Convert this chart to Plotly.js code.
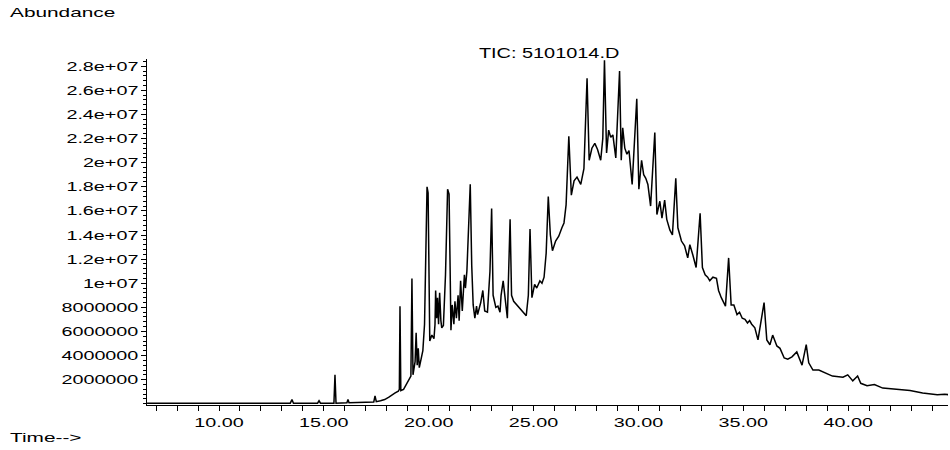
<!DOCTYPE html>
<html>
<head>
<meta charset="utf-8">
<script src="https://cdn.plot.ly/plotly-3.0.1.min.js"></script>
<style>
html,body{margin:0;padding:0;background:#fff;}
#chart{width:950px;height:450px;}
</style>
</head>
<body>
<div id="chart"></div>
<script>
// Retention time (minutes)
var timeMin = [
 6.57, 8.0, 10.0, 12.0, 13.40, 13.48, 13.55, 14.70, 14.77, 14.84,
 15.48, 15.53, 15.58, 16.10, 16.15, 16.20, 16.80, 17.00, 17.38, 17.44,
 17.50, 17.70, 17.90, 18.10, 18.25, 18.40, 18.55, 18.60, 18.63, 18.67,
 18.80, 18.90, 19.05, 19.15, 19.20, 19.25, 19.35, 19.40, 19.45, 19.50,
 19.55, 19.65, 19.72, 19.80, 19.87, 19.92, 19.97, 20.02, 20.05, 20.15,
 20.25, 20.30, 20.33, 20.38, 20.42, 20.47, 20.52, 20.58, 20.62, 20.70,
 20.80, 20.90, 20.97, 21.02, 21.06, 21.12, 21.20, 21.25, 21.32, 21.40,
 21.45, 21.52, 21.60, 21.70, 21.75, 21.82, 21.98, 22.05, 22.12, 22.20,
 22.28, 22.33, 22.40, 22.48, 22.58, 22.67, 22.80, 22.92, 23.00, 23.07,
 23.20, 23.30, 23.40, 23.45, 23.55, 23.65, 23.75, 23.88, 23.95, 24.05,
 24.20, 24.30, 24.40, 24.52, 24.65, 24.75, 24.83, 24.92, 25.05, 25.15,
 25.30, 25.40, 25.50, 25.60, 25.70, 25.80, 25.90, 26.05, 26.20, 26.35,
 26.45, 26.55, 26.68, 26.80, 26.93, 27.07, 27.25, 27.40, 27.55, 27.65,
 27.78, 27.92, 28.05, 28.20, 28.30, 28.38, 28.48, 28.58, 28.68, 28.78,
 28.92, 29.10, 29.18, 29.25, 29.35, 29.45, 29.55, 29.70, 29.92, 30.02,
 30.15, 30.25, 30.35, 30.45, 30.58, 30.78, 30.88, 31.02, 31.12, 31.25,
 31.35, 31.50, 31.62, 31.78, 31.88, 32.05, 32.20, 32.35, 32.45, 32.60,
 32.75, 32.94, 33.05, 33.18, 33.30, 33.40, 33.55, 33.72, 33.82, 33.95,
 34.15, 34.30, 34.42, 34.55, 34.70, 34.82, 34.95, 35.08, 35.20, 35.30,
 35.40, 35.55, 35.70, 35.99, 36.12, 36.27, 36.40, 36.60, 36.75, 36.95,
 37.12, 37.32, 37.55, 37.80, 38.00, 38.12, 38.32, 38.60, 38.85, 39.25,
 39.75, 39.98, 40.22, 40.45, 40.60, 40.90, 41.25, 41.65, 42.30, 42.95,
 43.55, 44.25, 44.60, 44.80
];

// Total ion current abundance
var abundance = [
 0.05e6, 0.05e6, 0.05e6, 0.05e6, 0.05e6, 0.35e6, 0.05e6, 0.05e6, 0.25e6, 0.05e6,
 0.05e6, 2.4e6, 0.05e6, 0.08e6, 0.35e6, 0.08e6, 0.1e6, 0.12e6, 0.15e6, 0.65e6,
 0.18e6, 0.25e6, 0.35e6, 0.55e6, 0.75e6, 0.9e6, 1.05e6, 1.2e6, 8.1e6, 1.1e6,
 1.2e6, 1.5e6, 2.0e6, 2.3e6, 10.4e6, 2.4e6, 3.5e6, 5.9e6, 3.2e6, 4.6e6,
 3.0e6, 3.8e6, 4.4e6, 6.6e6, 12.0e6, 18.0e6, 17.5e6, 7.1e6, 5.2e6, 5.7e6,
 5.4e6, 6.6e6, 9.4e6, 7.1e6, 8.8e6, 6.6e6, 9.2e6, 6.9e6, 6.3e6, 6.5e6,
 10.7e6, 17.8e6, 17.4e6, 11.3e6, 6.1e6, 8.2e6, 6.6e6, 8.5e6, 7.1e6, 9.0e6,
 6.9e6, 10.2e6, 7.7e6, 10.7e6, 9.6e6, 11.0e6, 18.2e6, 11.5e6, 8.2e6, 7.1e6,
 8.1e6, 7.4e6, 7.9e6, 8.4e6, 9.4e6, 7.7e6, 7.6e6, 11.0e6, 16.2e6, 9.0e6,
 8.0e6, 8.1e6, 7.6e6, 9.0e6, 10.2e6, 8.5e6, 7.1e6, 15.3e6, 9.0e6, 8.5e6,
 8.2e6, 8.0e6, 7.8e6, 7.5e6, 7.3e6, 9.0e6, 14.5e6, 8.8e6, 9.9e6, 9.6e6,
 10.2e6, 10.0e6, 10.5e6, 12.5e6, 17.2e6, 14.0e6, 12.7e6, 13.5e6, 13.9e6, 14.6e6,
 15.0e6, 16.5e6, 22.2e6, 17.3e6, 18.5e6, 18.8e6, 18.2e6, 19.5e6, 27.0e6, 20.2e6,
 21.2e6, 21.6e6, 21.1e6, 20.2e6, 22.0e6, 28.5e6, 20.8e6, 22.7e6, 22.1e6, 22.3e6,
 20.4e6, 27.6e6, 20.2e6, 22.9e6, 21.2e6, 20.7e6, 21.0e6, 18.2e6, 25.3e6, 17.8e6,
 20.2e6, 19.0e6, 18.7e6, 18.2e6, 16.4e6, 22.5e6, 15.7e6, 16.8e6, 15.4e6, 16.9e6,
 15.3e6, 14.4e6, 14.0e6, 18.7e6, 14.6e6, 13.5e6, 13.1e6, 12.1e6, 13.2e6, 12.3e6,
 11.3e6, 15.8e6, 11.3e6, 10.7e6, 10.5e6, 10.2e6, 10.5e6, 10.4e6, 9.4e6, 8.8e6,
 8.1e6, 12.1e6, 8.2e6, 8.2e6, 7.4e6, 7.6e6, 7.1e6, 7.0e6, 6.7e6, 6.9e6,
 6.6e6, 6.3e6, 5.3e6, 8.4e6, 5.3e6, 4.9e6, 5.7e6, 4.8e6, 4.6e6, 3.8e6,
 3.7e6, 3.9e6, 4.3e6, 3.2e6, 4.9e6, 3.4e6, 2.8e6, 2.8e6, 2.6e6, 2.3e6,
 2.2e6, 2.4e6, 1.9e6, 2.3e6, 1.7e6, 1.5e6, 1.6e6, 1.3e6, 1.2e6, 1.1e6,
 0.9e6, 0.75e6, 0.8e6, 0.75e6
];

var yTickVals = [2e6, 4e6, 6e6, 8e6, 1e7, 1.2e7, 1.4e7, 1.6e7, 1.8e7, 2e7, 2.2e7, 2.4e7, 2.6e7, 2.8e7];
var yTickText = ['2000000', '4000000', '6000000', '8000000', '1e+07', '1.2e+07', '1.4e+07', '1.6e+07', '1.8e+07', '2e+07', '2.2e+07', '2.4e+07', '2.6e+07', '2.8e+07'];

var chartTitle = 'TIC: 5101014.D';
var yLabel = 'Abundance';
var xLabel = 'Time-->';

var FONT = 'Liberation Sans, Arial, Helvetica, sans-serif';

var trace = {
  x: timeMin,
  y: abundance,
  type: 'scatter',
  mode: 'lines',
  line: {color: '#000000', width: 1.5},
  hoverinfo: 'skip'
};

var layout = {
  width: 950,
  height: 450,
  margin: {l: 147, r: 2, t: 59, b: 45, pad: 0},
  paper_bgcolor: '#ffffff',
  plot_bgcolor: '#ffffff',
  showlegend: false,
  font: {family: FONT, size: 13, color: '#000000'},
  title: {
    text: chartTitle,
    font: {family: FONT, size: 14, color: '#000000'},
    x: 0.578, xref: 'container', xanchor: 'center',
    y: 0.882, yref: 'container', yanchor: 'middle'
  },
  xaxis: {
    range: [6.567, 44.76],
    showgrid: false,
    zeroline: false,
    showline: true,
    linecolor: '#000000',
    linewidth: 1,
    ticks: 'outside',
    ticklen: 5,
    tickwidth: 1,
    tickcolor: '#000000',
    tick0: 0,
    dtick: 5,
    tickformat: '.2f',
    tickfont: {family: FONT, size: 13, color: '#000000'},
    minor: {dtick: 1, tick0: 0, ticks: 'outside', ticklen: 5, tickwidth: 1, tickcolor: '#000000', showgrid: false},
    fixedrange: true
  },
  yaxis: {
    range: [-0.1e6, 28.6e6],
    showgrid: false,
    zeroline: false,
    showline: true,
    linecolor: '#000000',
    linewidth: 1,
    ticks: 'outside',
    ticklen: 5,
    tickwidth: 1,
    tickcolor: '#000000',
    tickmode: 'array',
    tickvals: yTickVals,
    ticktext: yTickText,
    tickfont: {family: FONT, size: 13, color: '#000000'},
    minor: {dtick: 4e5, tick0: 0, ticks: 'outside', ticklen: 3, tickwidth: 1, tickcolor: '#000000', showgrid: false},
    fixedrange: true
  },
  annotations: [
    {
      text: yLabel, xref: 'paper', yref: 'paper',
      x: -0.1735, y: 1.1358, xanchor: 'left', yanchor: 'middle', align: 'left',
      showarrow: false, font: {family: FONT, size: 13, color: '#000000'}
    },
    {
      text: xLabel, xref: 'paper', yref: 'paper',
      x: -0.1735, y: -0.0925, xanchor: 'left', yanchor: 'middle', align: 'left',
      showarrow: false, font: {family: FONT, size: 13, color: '#000000'}
    }
  ]
};

var gd = document.getElementById('chart');
Plotly.newPlot(gd, [trace], layout, {staticPlot: true, displayModeBar: false}).then(function () {
  // The reference text is horizontally stretched; widen glyphs to match.
  var texts = gd.querySelectorAll('text');
  texts.forEach(function (el) {
    var w = el.getComputedTextLength();
    if (!w) return;
    var f = 1.52;
    if (el.classList.contains('annotation-text')) f = 1.6;
    if (el.classList.contains('gtitle')) f = 1.42;
    el.setAttribute('textLength', (w * f).toFixed(1));
    el.setAttribute('lengthAdjust', 'spacingAndGlyphs');
  });
});
</script>
</body>
</html>
